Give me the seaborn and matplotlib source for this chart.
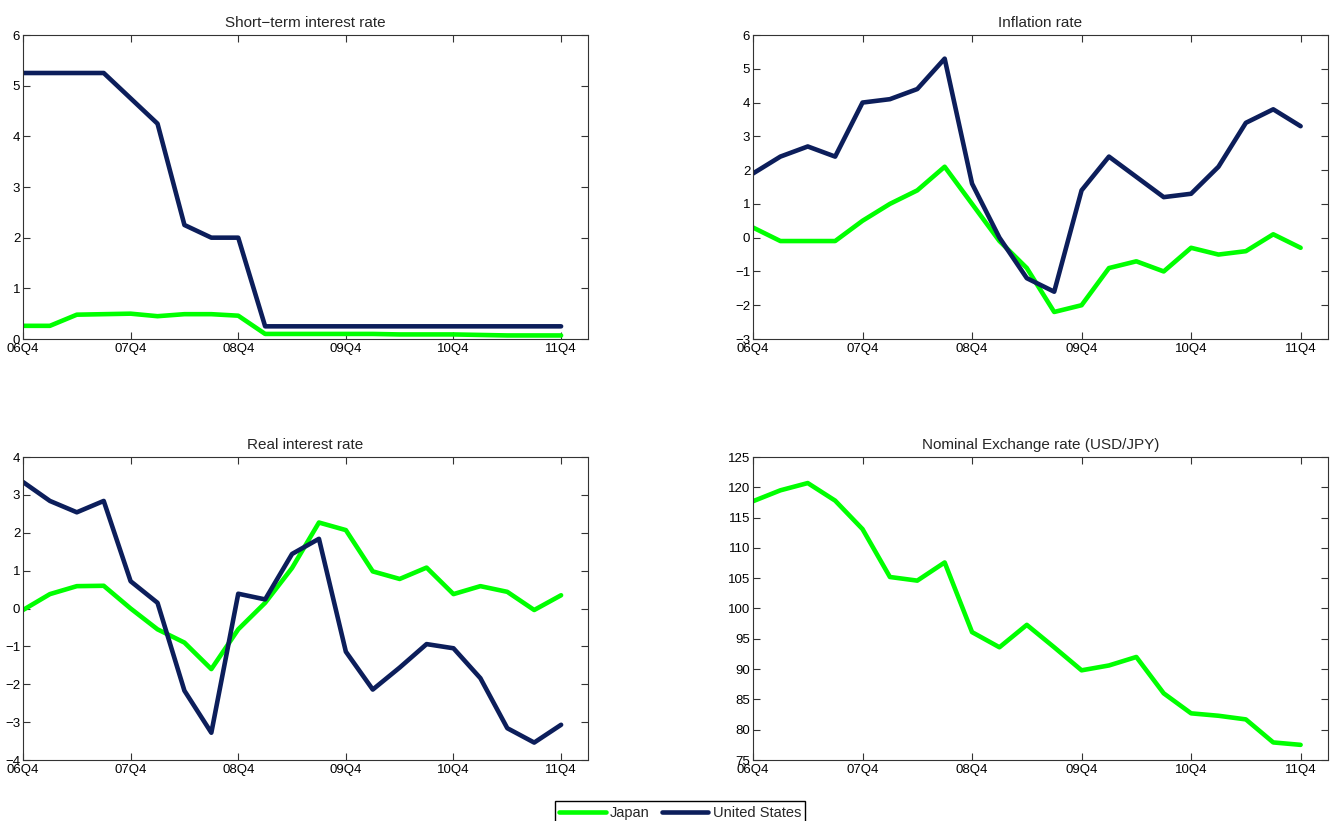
import matplotlib.pyplot as plt
import seaborn as sns
import numpy as np
import pandas as pd

# quarters 06Q4 .. 11Q4
quarters = ["06Q4", "07Q1", "07Q2", "07Q3", "07Q4", "08Q1", "08Q2", "08Q3", "08Q4",
            "09Q1", "09Q2", "09Q3", "09Q4", "10Q1", "10Q2", "10Q3", "10Q4",
            "11Q1", "11Q2", "11Q3", "11Q4"]
tick_labels = ["06Q4", "07Q4", "08Q4", "09Q4", "10Q4", "11Q4"]

short_jp = [0.26, 0.26, 0.48, 0.49, 0.50, 0.45, 0.49, 0.49, 0.46, 0.10, 0.10,
            0.10, 0.10, 0.10, 0.09, 0.09, 0.09, 0.08, 0.07, 0.07, 0.07]
short_us = [5.25, 5.25, 5.25, 5.25, 4.75, 4.25, 2.25, 2.0, 2.0, 0.25, 0.25,
            0.25, 0.25, 0.25, 0.25, 0.25, 0.25, 0.25, 0.25, 0.25, 0.25]

infl_jp = [0.3, -0.1, -0.1, -0.1, 0.5, 1.0, 1.4, 2.1, 1.0, -0.1, -0.9,
           -2.2, -2.0, -0.9, -0.7, -1.0, -0.3, -0.5, -0.4, 0.1, -0.3]
infl_us = [1.9, 2.4, 2.7, 2.4, 4.0, 4.1, 4.4, 5.3, 1.6, 0.0, -1.2,
           -1.6, 1.4, 2.4, 1.8, 1.2, 1.3, 2.1, 3.4, 3.8, 3.3]

real_jp = [-0.04, 0.38, 0.59, 0.60, 0.0, -0.55, -0.9, -1.6, -0.55, 0.15, 1.07,
           2.27, 2.07, 0.98, 0.78, 1.08, 0.38, 0.59, 0.44, -0.04, 0.35]
real_us = [3.34, 2.84, 2.54, 2.84, 0.72, 0.15, -2.17, -3.28, 0.39, 0.24, 1.44,
           1.84, -1.14, -2.14, -1.56, -0.94, -1.05, -1.84, -3.16, -3.54, -3.07]

usdjpy = [117.7, 119.5, 120.7, 117.8, 113.1, 105.2, 104.6, 107.6, 96.1, 93.6, 97.3,
          93.6, 89.8, 90.6, 92.0, 86.0, 82.7, 82.3, 81.7, 77.9, 77.5]

GREEN = "#00ff00"
NAVY = "#0c1e5b"

sns.set_style("ticks")
plt.rcParams["font.family"] = ["Liberation Sans", "DejaVu Sans"]
plt.rcParams["font.size"] = 9
plt.rcParams["xtick.direction"] = "in"
plt.rcParams["ytick.direction"] = "in"
plt.rcParams["xtick.top"] = True
plt.rcParams["ytick.right"] = True
plt.rcParams["axes.linewidth"] = 0.8
plt.rcParams["axes.edgecolor"] = "#333333"


def make_df(jp, us=None):
    frames = [pd.DataFrame({"q": np.arange(len(quarters)), "value": jp, "country": "Japan"})]
    if us is not None:
        frames.append(pd.DataFrame({"q": np.arange(len(quarters)), "value": us,
                                    "country": "United States"}))
    return pd.concat(frames, ignore_index=True)


fig = plt.figure(figsize=(13.39, 8.21), dpi=100)
W, H = 1339, 821
boxes = {
    "tl": (23, 35, 588, 339),
    "tr": (753, 35, 1328, 339),
    "bl": (23, 457, 588, 760),
    "br": (753, 457, 1328, 760),
}


def add_ax(key):
    x0, y0, x1, y1 = boxes[key]
    return fig.add_axes([x0 / W, 1 - y1 / H, (x1 - x0) / W, (y1 - y0) / H])


panels = [
    ("tl", "Short\u2212term interest rate", short_jp, short_us, (0, 6), np.arange(0, 7, 1)),
    ("tr", "Inflation rate", infl_jp, infl_us, (-3, 6), np.arange(-3, 7, 1)),
    ("bl", "Real interest rate", real_jp, real_us, (-4, 4), np.arange(-4, 5, 1)),
    ("br", "Nominal Exchange rate (USD/JPY)", usdjpy, None, (75, 125), np.arange(75, 130, 5)),
]

palette = {"Japan": GREEN, "United States": NAVY}
for key, title, jp, us, ylim, yticks in panels:
    ax = add_ax(key)
    df = make_df(jp, us)
    sns.lineplot(data=df, x="q", y="value", hue="country", palette=palette,
                 linewidth=3.3, ax=ax, legend=False)
    ax.set_xlim(0, 21)
    ax.set_ylim(*ylim)
    ax.set_xticks([quarters.index(t) for t in tick_labels])
    ax.set_xticklabels(tick_labels)
    ax.set_yticks(yticks)
    ax.set_xlabel("")
    ax.set_ylabel("")
    ax.set_title(title, fontsize=11, pad=6)
    ax.tick_params(length=5, width=0.8, labelsize=9.5, colors="#333333",
                   labelcolor="black")
    ax.tick_params(axis="x", pad=3)
    ax.tick_params(axis="y", pad=2)

handles = [plt.Line2D([], [], color=GREEN, lw=3.3),
           plt.Line2D([], [], color=NAVY, lw=3.3)]
fig.legend(handles, ["Japan", "United States"], loc="upper center",
           bbox_to_anchor=(680 / W, 1 - 794 / H), ncol=2, fontsize=10.5,
           frameon=True, fancybox=False, edgecolor="black", framealpha=1,
           handlelength=3.2, handletextpad=0.3, columnspacing=0.8,
           borderpad=0.3)

fig.savefig("out.png", dpi=100)
